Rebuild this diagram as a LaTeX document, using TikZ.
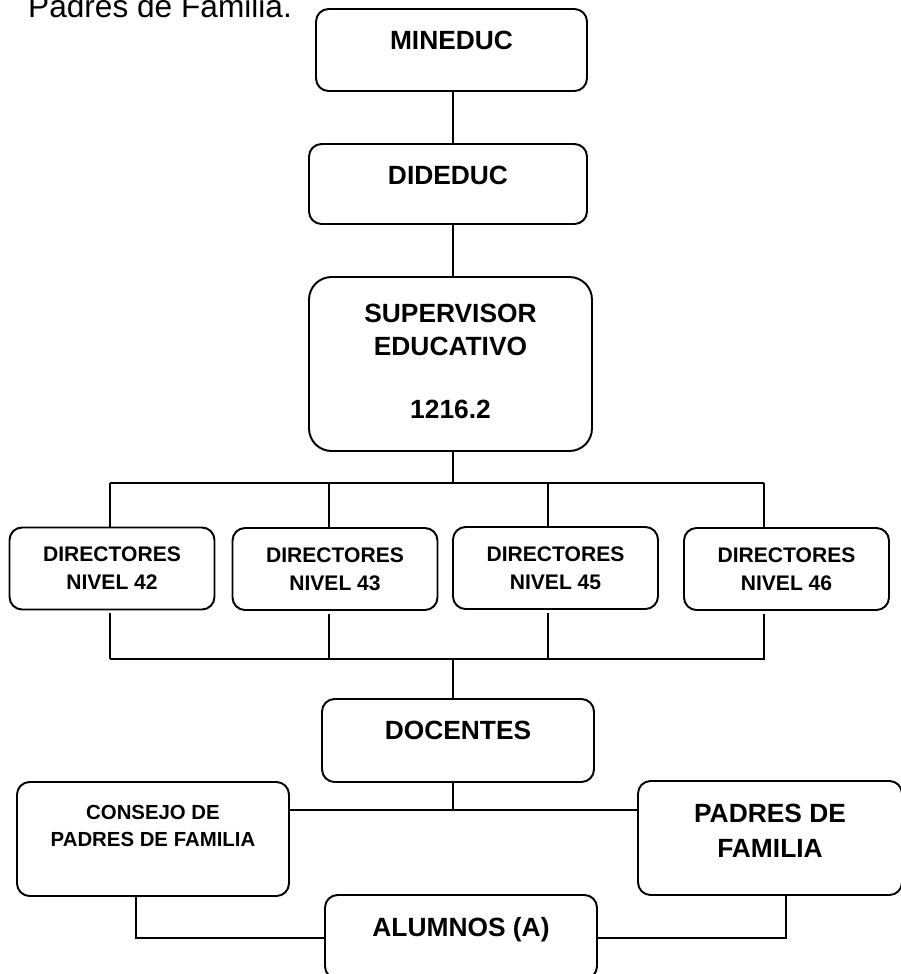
\documentclass[tikz,border=0pt]{standalone}
\usepackage{fontspec}
\setmainfont{Liberation Sans}

\begin{document}
\begin{tikzpicture}[x=0.02cm,y=-0.02cm,
    box/.style={draw,line width=1.1pt,rounded corners=0.25cm,align=center,
      font=\fontsize{15}{19}\selectfont\bfseries,text height=10.3pt},
    dirbox/.style={draw,line width=1.1pt,rounded corners=0.25cm,align=center,
      font=\fontsize{12}{16}\selectfont\bfseries,minimum width=4.1cm,minimum height=1.64cm},
    wire/.style={line width=0.75pt}]
\useasboundingbox (0,0) rectangle (900,974);

\node (titulo) [anchor=base west,font=\fontsize{18}{22}\selectfont] at (22,17) {Padres de Familia.};

\coordinate (eje) at (453,0);
\node (mineduc) [box,minimum width=5.42cm,minimum height=1.64cm,text depth=11.3pt] at (451.5,50) {MINEDUC};
\node (dideduc) [box,minimum width=5.56cm,minimum height=1.6cm,text depth=10.2pt] at (448,184) {DIDEDUC};
\node (super) [box,rounded corners=0.45cm,minimum width=5.66cm,minimum height=3.48cm,
    text height=65pt,text depth=2.8pt] at (450.5,364) {SUPERVISOR\\EDUCATIVO\\[16.7pt]1216.2};

\node (dir1) [dirbox] at (112,568.5) {DIRECTORES\\NIVEL 42};
\node (dir2) [dirbox] at (335,569) {DIRECTORES\\NIVEL 43};
\node (dir3) [dirbox] at (555.5,568) {DIRECTORES\\NIVEL 45};
\node (dir4) [dirbox] at (786.5,569) {DIRECTORES\\NIVEL 46};

\node (docentes) [box,minimum width=5.44cm,minimum height=1.66cm,text depth=11.9pt] at (458,740.5) {DOCENTES};
\node (consejo) [box,font=\fontsize{11.6}{15.3}\selectfont\bfseries,minimum width=5.44cm,minimum height=2.28cm,
    text height=23.3pt,text depth=15.3pt] at (153,839) {CONSEJO DE\\PADRES DE FAMILIA};
\node (padres) [box,font=\fontsize{15}{20}\selectfont\bfseries,minimum width=5.28cm,minimum height=2.28cm,
    text height=30.3pt,text depth=8.5pt] at (770,838) {PADRES DE\\FAMILIA};
\node (alumnos) [box,minimum width=5.44cm,minimum height=1.68cm,text depth=11.3pt] at (461,937) {ALUMNOS (A)};

\draw[wire] (mineduc.south -| eje) -- (dideduc.north -| eje);
\draw[wire] (dideduc.south -| eje) -- (super.north -| eje);
\draw[wire] (super.south -| eje) -- (453,483);
\draw[wire] (110,483) -- (764,483);
\foreach \d/\x in {dir1/110,dir2/329,dir3/548,dir4/764}{
  \draw[wire] (\x,483) -- (\x,483 |- \d.north);
  \draw[wire] ([yshift=-0.06cm]\x,659 |- \d.south) -- (\x,659);
}
\draw[line width=1.1pt] (110,659) -- (765,659);
\draw[wire] (453,659) -- (docentes.north -| eje);
\draw[wire] (docentes.south -| eje) -- (453,810);
\draw[wire] (consejo.east |- 0,810) -- (padres.west |- 0,810);
\draw[wire] (136,0 |- consejo.south) -- (136,938) -- (alumnos.west |- 0,938);
\draw[wire] (786,0 |- padres.south) -- (786,938) -- (alumnos.east |- 0,938);
\end{tikzpicture}
\end{document}
